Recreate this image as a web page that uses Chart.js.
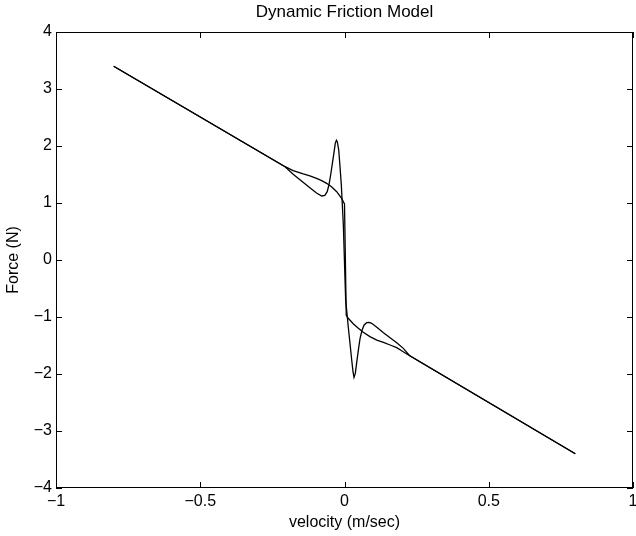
<!DOCTYPE html>
<html>
<head>
<meta charset="utf-8">
<script src="https://cdn.jsdelivr.net/npm/chart.js@4"></script>
<style>
  html, body { margin: 0; padding: 0; background: #fff; }
  #wrap { width: 636px; height: 536px; }
</style>
</head>
<body>
<div id="wrap"><canvas id="chart1" width="636" height="536"></canvas></div>
<script>
// Data
const xTicks = [-1, -0.5, 0, 0.5, 1];
const yTicks = [-4, -3, -2, -1, 0, 1, 2, 3, 4];

// smooth curve (no overshoot)
const smoothV = [-0.8, -0.206, -0.178, -0.143, -0.12, -0.097, -0.079, -0.062, -0.045, -0.027, -0.01, 0.0,
                 0.006, 0.013, 0.031, 0.048, 0.065, 0.088, 0.112, 0.135, 0.158, 0.181, 0.198, 0.216, 0.8];
const smoothF = [3.4, 1.637, 1.567, 1.509, 1.474, 1.433, 1.392, 1.345, 1.286, 1.199, 1.082, 0.985,
                 -0.97, -1.023, -1.123, -1.199, -1.269, -1.345, -1.404, -1.444, -1.491, -1.538, -1.591, -1.649, -3.4];

// oscillating curve
const oscV = [-0.8, -0.206, -0.178, -0.149, -0.12, -0.097, -0.079, -0.068, -0.06, -0.054, -0.048, -0.042,
              -0.036, -0.032, -0.028, -0.025, -0.02, -0.016, -0.011, -0.0075, -0.004,
              0.004, 0.0075, 0.013, 0.019, 0.025, 0.0295, 0.033, 0.0375, 0.042, 0.048, 0.054,
              0.061, 0.068, 0.077, 0.086, 0.094, 0.112, 0.135, 0.158, 0.181, 0.204, 0.225, 0.8];
const oscF = [3.4, 1.637, 1.503, 1.386, 1.269, 1.175, 1.123, 1.135, 1.199, 1.316, 1.491, 1.696,
              1.901, 2.047, 2.1, 2.076, 1.93, 1.667, 1.316, 0.965, 0.614,
              -0.702, -0.877, -1.17, -1.46, -1.754, -1.96, -2.058, -1.99, -1.81, -1.58, -1.374,
              -1.228, -1.14, -1.1, -1.093, -1.111, -1.181, -1.275, -1.363, -1.45, -1.55, -1.675, -3.4];

const FONT = 'Liberation Sans, Arial, Helvetica, sans-serif';
const fmt = v => (v < 0 ? '\u2212' : '') + Math.abs(v);

// box + inward ticks + title, MATLAB style
const matlabAxes = {
  id: 'matlabAxes',
  afterDraw(chart) {
    const {ctx, chartArea: a, scales: {x, y}} = chart;
    ctx.save();
    ctx.strokeStyle = '#000';
    ctx.lineWidth = 1;
    ctx.strokeRect(a.left + 0.5, a.top + 0.5, a.right - a.left - 1, a.bottom - a.top - 1);
    const len = 6;
    ctx.beginPath();
    xTicks.forEach(v => {
      const px = Math.round(x.getPixelForValue(v)) + 0.5;
      ctx.moveTo(px, a.bottom); ctx.lineTo(px, a.bottom - len);
      ctx.moveTo(px, a.top); ctx.lineTo(px, a.top + len);
    });
    yTicks.forEach(v => {
      const py = Math.round(y.getPixelForValue(v)) + 0.5;
      ctx.moveTo(a.left, py); ctx.lineTo(a.left + len, py);
      ctx.moveTo(a.right, py); ctx.lineTo(a.right - len, py);
    });
    ctx.stroke();
    ctx.fillStyle = '#000';
    ctx.font = '17px ' + FONT;
    ctx.textAlign = 'center';
    ctx.textBaseline = 'middle';
    ctx.fillText('Dynamic Friction Model', (a.left + a.right) / 2, 12);
    ctx.restore();
  }
};

const toPts = (xs, ys) => xs.map((v, i) => ({x: v, y: ys[i]}));

const ctx1 = document.getElementById('chart1').getContext('2d');
new Chart(ctx1, {
  type: 'scatter',
  data: {
    datasets: [
      {data: toPts(smoothV, smoothF), showLine: true, borderColor: '#000', borderWidth: 1.3,
       pointRadius: 0, tension: 0},
      {data: toPts(oscV, oscF), showLine: true, borderColor: '#000', borderWidth: 1.3,
       pointRadius: 0, tension: 0}
    ]
  },
  options: {
    responsive: false,
    animation: false,
    layout: {padding: {left: 0, top: 32, right: 3, bottom: 0}},
    plugins: {legend: {display: false}, tooltip: {enabled: false}, title: {display: false}},
    scales: {
      x: {
        type: 'linear', min: -1, max: 1,
        afterBuildTicks: s => { s.ticks = xTicks.map(v => ({value: v})); },
        afterFit: s => { s.height = 48; s.paddingLeft = 0; s.paddingRight = 0; },
        grid: {display: false, drawTicks: false},
        border: {display: false},
        ticks: {color: '#000', padding: 4, maxRotation: 0, font: {family: FONT, size: 16}, callback: fmt},
        title: {display: true, text: 'velocity (m/sec)', color: '#000', padding: {top: 0, bottom: 4},
                font: {family: FONT, size: 16}}
      },
      y: {
        type: 'linear', min: -4, max: 4,
        afterBuildTicks: s => { s.ticks = yTicks.map(v => ({value: v})); },
        afterFit: s => { s.width = 56; s.paddingTop = 0; s.paddingBottom = 0; },
        grid: {display: false, drawTicks: false},
        border: {display: false},
        ticks: {color: '#000', padding: 4, font: {family: FONT, size: 16}, callback: fmt},
        title: {display: true, text: 'Force (N)', color: '#000', padding: {top: 4, bottom: 0},
                font: {family: FONT, size: 16}}
      }
    }
  },
  plugins: [matlabAxes]
});
</script>
</body>
</html>
